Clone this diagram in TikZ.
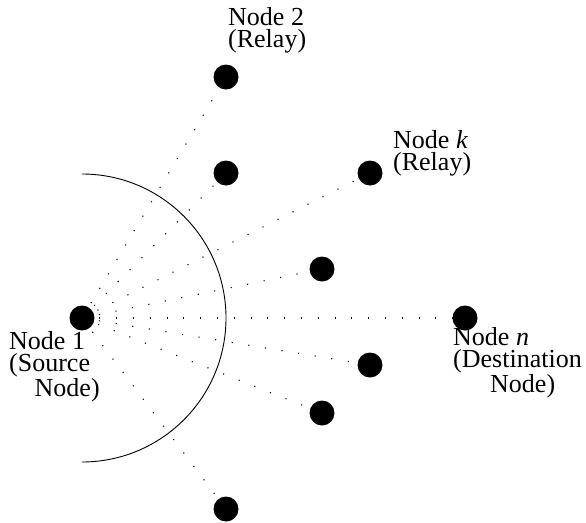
\documentclass[tikz,border=0pt]{standalone}
\usepackage{fontspec}
\setmainfont{Liberation Serif}
\begin{document}
\begin{tikzpicture}[x=1pt,y=-1pt,
  station/.style={circle,fill=black,inner sep=0pt,minimum size=25pt},
  link/.style={line width=1.1pt,dash pattern=on 1.1pt off 15.7pt,dash phase=16.3pt},
  caption/.style={inner sep=0pt,align=left,anchor=base west,
    font=\fontsize{26}{22}\selectfont}]
  \useasboundingbox (0,0) rectangle (586,522);

  % node positions
  \coordinate (s) at (82,318);
  \coordinate (r2) at (226,77);
  \coordinate (ra) at (226,173);
  \coordinate (rk) at (370,173);
  \coordinate (rb) at (322,269);
  \coordinate (d) at (465,318);
  \coordinate (rc) at (370,365);
  \coordinate (rd) at (322,413);
  \coordinate (re) at (226,509);

  % dotted links from the source
  \foreach \t in {r2,ra,rk,rb,d,rc,rd,re}
    \draw[link] (s) -- (\t);

  % transmission range of the source
  \draw[line width=0.9pt] (82,318) ++(0,-144) arc[start angle=-90,end angle=90,radius=144];

  % nodes
  \foreach \t in {s,r2,ra,rk,rb,d,rc,rd,re}
    \node[station] (n\t) at (\t) {};

  % labels (anchored at the baseline of the last line)
  \node[caption] (l1) at (9,396) {Node 1\\(Source\\\hspace*{25.5pt}Node)};
  \node[caption] (l2) at (228,47) {Node 2\\(Relay)};
  \node[caption] (lk) at (393,170) {Node \textit{k}\\(Relay)};
  \node[caption] (ln) at (453,392) {Node \textit{n}\\(Destination\\\hspace*{37pt}Node)};
\end{tikzpicture}
\end{document}
